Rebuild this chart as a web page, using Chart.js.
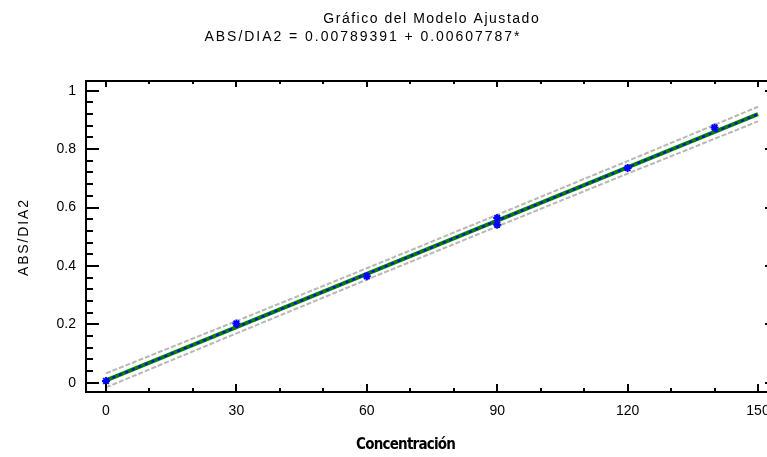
<!DOCTYPE html>
<html><head><meta charset="utf-8">
<script src="https://cdn.jsdelivr.net/npm/chart.js@4.4.0/dist/chart.umd.min.js"></script>
<style>
html,body{margin:0;padding:0;background:#fff;overflow:hidden;width:767px;height:457px;}
#wrap{position:relative;width:790px;height:457px;}
</style></head><body>
<div id="wrap"><canvas id="c" width="790" height="457"></canvas></div>
<script>
// ---- data ----
const concentracion = [0, 30, 60, 90, 90, 120, 140];
const absDia2 = [0.006, 0.203, 0.365, 0.541, 0.564, 0.735, 0.874];
const fitX = [0, 150];
const fitY = [0.0079, 0.9196];
const bandX = [0, 30, 60, 90, 120, 150];
const upperLimit = [0.032, 0.211, 0.392, 0.575, 0.759, 0.945];
const lowerLimit = [-0.016, 0.169, 0.353, 0.535, 0.716, 0.895];
const xTicks = [0, 30, 60, 90, 120, 150];
const xTickLabels = ['0', '30', '60', '90', '120', '150'];
const xMinorTicks = [10, 20, 40, 50, 70, 80, 100, 110, 130, 140];
const yTicks = [0, 0.2, 0.4, 0.6, 0.8, 1];
const yTickLabels = ['0', '0.2', '0.4', '0.6', '0.8', '1'];
const yMinorTicks = [0.04, 0.08, 0.12, 0.16, 0.24, 0.28, 0.32, 0.36, 0.44, 0.48, 0.52, 0.56, 0.64, 0.68, 0.72, 0.76, 0.84, 0.88, 0.92, 0.96];
const titleText = 'Gráfico del Modelo Ajustado';
const subtitleText = 'ABS/DIA2 = 0.00789391 + 0.00607787*';
const xTitleText = 'Concentración';
const yTitleText = 'ABS/DIA2';

const pairs = (xs, ys) => xs.map((v, i) => ({x: v, y: ys[i]}));

function fitText(ctx, text, cx, cy, width, font) {
  ctx.font = font;
  ctx.letterSpacing = '0px';
  const w = ctx.measureText(text).width;
  const ls = (width - w) / text.length;
  ctx.letterSpacing = ls.toFixed(2) + 'px';
  ctx.textAlign = 'center';
  ctx.textBaseline = 'middle';
  ctx.fillText(text, cx + ls / 2, cy);
  ctx.letterSpacing = '0px';
}

const framePlugin = {
  id: 'framePlugin',
  afterDraw(chart) {
    const {ctx, chartArea: a, scales: {x, y}} = chart;
    ctx.save();
    ctx.strokeStyle = '#000';
    ctx.fillStyle = '#000';
    ctx.lineWidth = 2;
    ctx.strokeRect(a.left, a.top, a.right - a.left, a.bottom - a.top);
    const tk = (x1, y1, x2, y2) => { ctx.beginPath(); ctx.moveTo(x1, y1); ctx.lineTo(x2, y2); ctx.stroke(); };
    xTicks.forEach(v => { const p = Math.round(x.getPixelForValue(v)); tk(p, a.bottom, p, a.bottom - 8); tk(p, a.top, p, a.top + 6); });
    xMinorTicks.forEach(v => { const p = Math.round(x.getPixelForValue(v)); tk(p, a.bottom, p, a.bottom - 4); tk(p, a.top, p, a.top + 3); });
    yTicks.forEach(v => { const p = Math.round(y.getPixelForValue(v)); tk(a.left, p, a.left + 13, p); tk(a.right, p, a.right - 12, p); });
    yMinorTicks.forEach(v => { const p = Math.round(y.getPixelForValue(v)); tk(a.left, p, a.left + 7, p); tk(a.right, p, a.right - 6, p); });
    // titles
    fitText(ctx, titleText, 431, 19, 217, '14px "Liberation Sans", Arial, sans-serif');
    fitText(ctx, subtitleText, 362, 37, 317, '14px "Liberation Sans", Arial, sans-serif');
    fitText(ctx, xTitleText, 406, 445, 99, 'bold 15px "Liberation Sans Narrow", "DejaVu Sans Condensed", sans-serif');
    ctx.save();
    ctx.translate(24, 238);
    ctx.rotate(-Math.PI / 2);
    fitText(ctx, yTitleText, 0, 0, 78, '14px "Liberation Sans", Arial, sans-serif');
    ctx.restore();
    ctx.restore();
  }
};

const tickFont = {family: '"Liberation Sans", Arial, sans-serif', size: 14};

new Chart(document.getElementById('c'), {
  type: 'scatter',
  data: {
    datasets: [
      {data: pairs(concentracion, absDia2), showLine: false, pointStyle: 'star', pointRadius: 4, borderColor: '#0000ff', backgroundColor: '#0000ff', borderWidth: 2, order: 0},
      {data: pairs(fitX, fitY), showLine: true, borderColor: '#0000ff', borderWidth: 2, borderDash: [3, 4], pointRadius: 0, order: 1},
      {data: pairs(fitX, fitY), showLine: true, borderColor: '#008000', borderWidth: 4, pointRadius: 0, order: 2},
      {data: pairs(bandX, upperLimit), showLine: true, borderColor: '#b8b8b8', borderWidth: 2, borderDash: [5, 2], pointRadius: 0, fill: false, order: 3},
      {data: pairs(bandX, lowerLimit), showLine: true, borderColor: '#b8b8b8', borderWidth: 2, borderDash: [5, 2], pointRadius: 0, fill: false, order: 4}
    ]
  },
  options: {
    responsive: false,
    animation: false,
    devicePixelRatio: 1,
    layout: {padding: {top: 81, right: 13, left: 0, bottom: 0}},
    plugins: {legend: {display: false}, tooltip: {enabled: false}, title: {display: false}},
    scales: {
      x: {
        type: 'linear', min: -4.6, max: 154.37,
        grid: {display: false, drawTicks: false},
        border: {display: false},
        afterBuildTicks: s => { s.ticks = xTicks.map(v => ({value: v})); },
        afterFit: s => { s.height = 65; },
        ticks: {padding: 11, color: '#000', font: tickFont, maxRotation: 0, autoSkip: false,
          callback: (v) => { const i = xTicks.indexOf(v); return i >= 0 ? xTickLabels[i] : ''; }}
      },
      y: {
        type: 'linear', min: -0.0318, max: 1.0332,
        grid: {display: false, drawTicks: false},
        border: {display: false},
        afterBuildTicks: s => { s.ticks = yTicks.map(v => ({value: v})); },
        afterFit: s => { s.width = 86; },
        ticks: {padding: 10, color: '#000', font: tickFont, autoSkip: false,
          callback: (v) => { const i = yTicks.indexOf(v); return i >= 0 ? yTickLabels[i] : ''; }}
      }
    }
  },
  plugins: [framePlugin]
});
</script>
</body></html>
